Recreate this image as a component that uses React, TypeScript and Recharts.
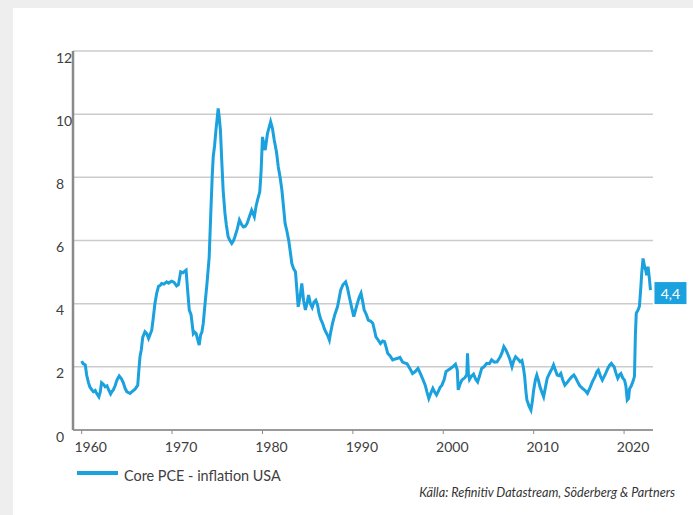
import { CartesianGrid, Line, LineChart, ReferenceDot, XAxis, YAxis } from 'recharts';

// Core PCE inflation, USA, % y/y. [decimal year, value].
const PCE_1960S: [number, number][] = [
  [1960.0, 2.18], [1960.15, 2.1], [1960.4, 2.06], [1960.55, 1.74], [1960.75, 1.5], [1960.9, 1.37],
  [1961.1, 1.28], [1961.3, 1.21], [1961.5, 1.25], [1961.65, 1.16], [1961.9, 1.05], [1962.05, 1.2],
  [1962.2, 1.5], [1962.4, 1.45], [1962.6, 1.37], [1962.8, 1.4], [1962.95, 1.29], [1963.2, 1.14],
  [1963.35, 1.22], [1963.5, 1.27], [1963.7, 1.4], [1963.9, 1.58], [1964.15, 1.71], [1964.4, 1.62],
  [1964.6, 1.5], [1964.8, 1.32], [1965.0, 1.21], [1965.2, 1.18], [1965.35, 1.16], [1965.6, 1.22],
  [1965.9, 1.29], [1966.2, 1.42], [1966.3, 1.8], [1966.45, 2.32], [1966.6, 2.55], [1966.75, 2.93],
  [1967.0, 3.11], [1967.2, 3.05], [1967.4, 2.9], [1967.6, 3.05], [1967.75, 3.16], [1967.9, 3.5],
  [1968.1, 4.0], [1968.3, 4.33], [1968.5, 4.55], [1968.7, 4.58], [1968.85, 4.64], [1969.1, 4.62],
  [1969.4, 4.69], [1969.6, 4.65], [1969.95, 4.71]
];

const PCE_1970S: [number, number][] = [
  [1970.2, 4.68], [1970.5, 4.56], [1970.7, 4.6], [1970.95, 5.01], [1971.2, 4.98], [1971.55, 5.06],
  [1971.7, 4.5], [1971.9, 3.8], [1972.1, 3.65], [1972.35, 3.05], [1972.5, 3.1], [1972.65, 3.06],
  [1972.85, 2.85], [1973.0, 2.69], [1973.15, 3.0], [1973.3, 3.1], [1973.45, 3.38], [1973.65, 4.01],
  [1973.85, 4.6], [1974.1, 5.45], [1974.3, 7.0], [1974.45, 8.1], [1974.55, 8.65], [1974.7, 9.0],
  [1974.85, 9.49], [1975.0, 9.9], [1975.1, 10.18], [1975.2, 9.95], [1975.35, 9.49], [1975.5, 8.5],
  [1975.65, 7.59], [1975.85, 6.86], [1976.0, 6.5], [1976.2, 6.12], [1976.4, 6.0], [1976.6, 5.91],
  [1976.8, 6.0], [1976.95, 6.12], [1977.2, 6.35], [1977.45, 6.65], [1977.7, 6.5], [1977.9, 6.43],
  [1978.1, 6.45], [1978.3, 6.54], [1978.55, 6.75], [1978.8, 6.96], [1979.1, 6.75], [1979.3, 7.1],
  [1979.45, 7.28], [1979.7, 7.54], [1979.85, 8.2]
];

const PCE_1980S: [number, number][] = [
  [1980.0, 9.28], [1980.15, 9.05], [1980.3, 8.86], [1980.55, 9.39], [1980.75, 9.6], [1980.9, 9.76],
  [1981.1, 9.55], [1981.3, 9.18], [1981.55, 8.8], [1981.75, 8.33], [1981.95, 8.0], [1982.15, 7.59],
  [1982.35, 7.0], [1982.5, 6.54], [1982.7, 6.3], [1982.9, 6.01], [1983.05, 5.7], [1983.25, 5.27],
  [1983.45, 5.1], [1983.65, 5.01], [1983.95, 3.9], [1984.15, 4.2], [1984.35, 4.64], [1984.55, 4.1],
  [1984.75, 3.8], [1984.95, 4.05], [1985.1, 4.27], [1985.3, 4.0], [1985.5, 3.88], [1985.7, 4.05],
  [1985.9, 4.11], [1986.1, 3.95], [1986.25, 3.7], [1986.45, 3.5], [1986.65, 3.38], [1986.85, 3.2],
  [1987.0, 3.11], [1987.2, 3.0], [1987.4, 2.85], [1987.55, 3.1], [1987.75, 3.38], [1988.0, 3.65],
  [1988.3, 3.9], [1988.5, 4.2], [1988.65, 4.43], [1988.9, 4.6], [1989.2, 4.69], [1989.4, 4.5],
  [1989.6, 4.22], [1989.85, 3.9]
];

const PCE_1990S: [number, number][] = [
  [1990.1, 3.59], [1990.3, 3.8], [1990.45, 3.96], [1990.7, 4.2], [1990.9, 4.33], [1991.1, 4.05],
  [1991.25, 3.8], [1991.5, 3.65], [1991.7, 3.48], [1991.95, 3.45], [1992.2, 3.38], [1992.4, 3.15],
  [1992.55, 2.95], [1992.8, 2.85], [1993.05, 2.74], [1993.3, 2.82], [1993.5, 2.8], [1993.7, 2.6],
  [1993.85, 2.43], [1994.1, 2.35], [1994.4, 2.22], [1994.7, 2.25], [1994.95, 2.27], [1995.2, 2.3],
  [1995.5, 2.15], [1995.75, 2.12], [1996.0, 2.1], [1996.3, 1.95], [1996.6, 1.79], [1996.9, 1.85],
  [1997.2, 1.95], [1997.45, 1.8], [1997.75, 1.6], [1998.0, 1.42], [1998.2, 1.2], [1998.4, 1.0],
  [1998.6, 1.15], [1998.85, 1.32], [1999.05, 1.2], [1999.25, 1.11], [1999.45, 1.22], [1999.65, 1.35],
  [1999.85, 1.42]
];

const PCE_2000S: [number, number][] = [
  [2000.1, 1.6], [2000.3, 1.85], [2000.55, 1.9], [2000.8, 1.95], [2001.05, 2.0], [2001.35, 2.08],
  [2001.55, 1.9], [2001.65, 1.27], [2001.85, 1.45], [2002.05, 1.58], [2002.4, 1.66], [2002.6, 1.75],
  [2002.68, 2.43], [2002.78, 1.8], [2002.9, 1.6], [2003.1, 1.7], [2003.35, 1.77], [2003.6, 1.6],
  [2003.8, 1.52], [2004.0, 1.7], [2004.25, 1.95], [2004.5, 2.0], [2004.8, 2.11], [2005.1, 2.1],
  [2005.35, 2.22], [2005.65, 2.15], [2005.95, 2.16], [2006.15, 2.25], [2006.3, 2.32], [2006.5, 2.45],
  [2006.7, 2.64], [2006.9, 2.55], [2007.1, 2.43], [2007.35, 2.25], [2007.6, 2.0], [2007.8, 2.2],
  [2008.0, 2.32], [2008.25, 2.25], [2008.5, 2.16], [2008.7, 2.2], [2008.85, 2.0], [2009.0, 1.7],
  [2009.15, 1.2], [2009.25, 0.95], [2009.5, 0.75], [2009.7, 0.63], [2009.85, 0.9]
];

const PCE_2010S: [number, number][] = [
  [2010.0, 1.27], [2010.2, 1.6], [2010.35, 1.74], [2010.55, 1.55], [2010.7, 1.37], [2010.9, 1.2],
  [2011.1, 1.05], [2011.3, 1.35], [2011.5, 1.64], [2011.85, 1.85], [2012.05, 1.95], [2012.2, 2.06],
  [2012.4, 1.9], [2012.6, 1.74], [2012.8, 1.72], [2013.0, 1.79], [2013.2, 1.6], [2013.45, 1.42],
  [2013.7, 1.5], [2013.9, 1.58], [2014.2, 1.68], [2014.45, 1.74], [2014.65, 1.65], [2014.85, 1.53],
  [2015.1, 1.4], [2015.4, 1.32], [2015.7, 1.25], [2015.95, 1.16], [2016.25, 1.35], [2016.5, 1.53],
  [2016.8, 1.7], [2017.0, 1.85], [2017.15, 1.9], [2017.4, 1.7], [2017.6, 1.58], [2017.9, 1.75],
  [2018.2, 1.95], [2018.4, 2.05], [2018.6, 2.11], [2018.75, 2.05], [2018.9, 2.0], [2019.1, 1.8],
  [2019.3, 1.64], [2019.5, 1.75], [2019.65, 1.79], [2019.85, 1.65]
];

const PCE_2020S: [number, number][] = [
  [2020.05, 1.58], [2020.2, 1.4], [2020.35, 0.95], [2020.5, 1.0], [2020.6, 1.3], [2020.8, 1.4],
  [2021.0, 1.55], [2021.15, 1.7], [2021.25, 3.0], [2021.35, 3.7], [2021.55, 3.8], [2021.7, 3.92],
  [2021.85, 4.5], [2021.95, 4.96], [2022.1, 5.43], [2022.25, 5.2], [2022.4, 5.06], [2022.5, 4.9],
  [2022.65, 5.17], [2022.8, 4.8], [2022.92, 4.43]
];

const YEAR_TICKS = [1960, 1970, 1980, 1990, 2000, 2010, 2020];
const VALUE_TICKS = [0, 2, 4, 6, 8, 10, 12];
const SERIES_NAME = 'Core PCE - inflation USA';
const LAST_LABEL = '4,4';
const SOURCE = 'Källa: Refinitiv Datastream, Söderberg & Partners';

const BLUE = '#1ba1dd';
const TEXT = '#404040';
const FONT = 'Lato, "Open Sans", sans-serif';

const chartData = [...PCE_1960S, ...PCE_1970S, ...PCE_1980S, ...PCE_1990S, ...PCE_2000S, ...PCE_2010S, ...PCE_2020S].map(
  ([year, value]) => ({ year, value })
);
const last = chartData[chartData.length - 1];

function YearTick({ x, y, payload }: any) {
  return (
    <text x={x + 9} y={y + 16} textAnchor="middle" fill={TEXT} fontSize={14} fontFamily={FONT}>
      {payload.value}
    </text>
  );
}

function ValueTick({ x, y, payload }: any) {
  return (
    <text x={x - 17} y={y + 6} textAnchor="start" dominantBaseline="central" fill={TEXT} fontSize={14} fontFamily={FONT}>
      {payload.value}
    </text>
  );
}

function EndBadge({ cx, cy }: any) {
  return (
    <g>
      <rect x={cx + 4} y={cy - 8} width={32} height={22} fill={BLUE} />
      <text x={cx + 20} y={cy + 3} textAnchor="middle" dominantBaseline="central" fill="#fff" fontSize={14} fontFamily={FONT}>
        {LAST_LABEL}
      </text>
    </g>
  );
}

export default function App() {
  return (
    <div style={{ position: 'absolute', left: 0, top: 0, width: 693, height: 515, background: '#efeeee', overflow: 'hidden' }}>
      <div style={{ position: 'absolute', left: 13, top: 8, right: 0, bottom: 0, background: '#fff' }} />
      <div style={{ position: 'absolute', left: 0, top: 0 }}>
        <LineChart width={693} height={515} data={chartData} margin={{ top: 51, right: 40, bottom: 55, left: 0 }}>
          <CartesianGrid horizontal vertical={false} stroke="#cbcbcb" strokeWidth={1.5} />
          <XAxis
            dataKey="year"
            type="number"
            domain={[1959.04, 2023.2]}
            ticks={YEAR_TICKS}
            tick={<YearTick />}
            height={30}
            tickSize={4}
            tickLine={{ stroke: '#8c8c8c' }}
            axisLine={{ stroke: '#9a9a9a', strokeWidth: 2 }}
            allowDataOverflow
          />
          <YAxis
            domain={[0, 12]}
            ticks={VALUE_TICKS}
            width={73}
            tickSize={0}
            tickMargin={0}
            tick={<ValueTick />}
            tickLine={false}
            axisLine={{ stroke: '#8a8a8a', strokeWidth: 2.5 }}
          />
          <Line
            type="linear"
            dataKey="value"
            name={SERIES_NAME}
            stroke={BLUE}
            strokeWidth={3}
            dot={false}
            isAnimationActive={false}
          />
          <ReferenceDot x={last.year} y={last.value} shape={<EndBadge />} />
        </LineChart>
      </div>
      <div
        style={{
          position: 'absolute',
          left: 77,
          top: 467,
          display: 'flex',
          alignItems: 'center',
          fontFamily: FONT,
          fontSize: 14.4,
          color: TEXT,
          whiteSpace: 'nowrap'
        }}
      >
        <span style={{ display: 'inline-block', width: 41, height: 4, background: BLUE, marginRight: 6, marginTop: -6 }} />
        {SERIES_NAME}
      </div>
      <div
        style={{
          position: 'absolute',
          right: 18,
          top: 485,
          fontFamily: FONT,
          fontStyle: 'italic',
          fontSize: 12.6,
          color: '#333',
          whiteSpace: 'nowrap'
        }}
      >
        {SOURCE}
      </div>
    </div>
  );
}
